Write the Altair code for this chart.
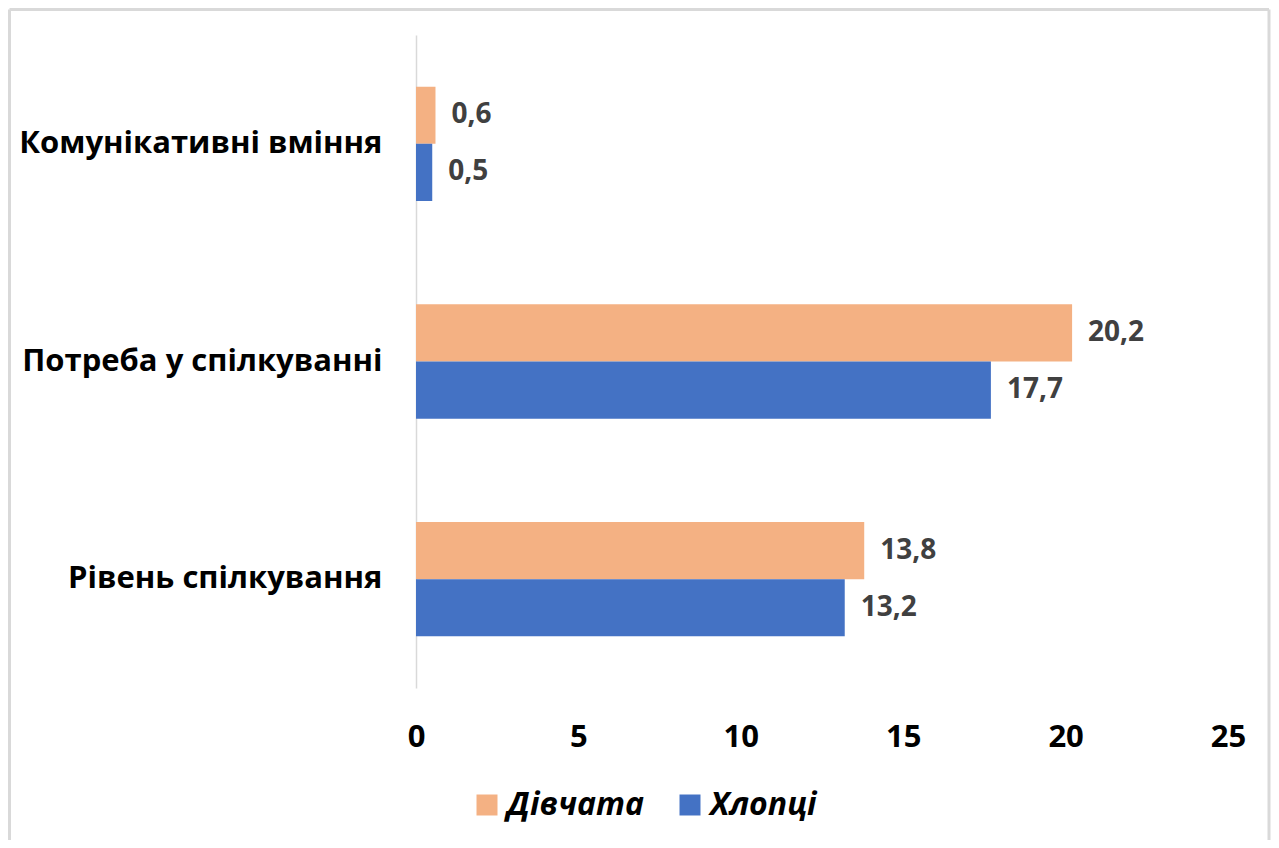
import altair as alt
import pandas as pd

categories = ["Комунікативні вміння", "Потреба у спілкуванні", "Рівень спілкування"]
series = ["Дівчата", "Хлопці"]
girls = [0.6, 20.2, 13.8]
boys = [0.5, 17.7, 13.2]
x_ticks = [0, 5, 10, 15, 20, 25]
colors = ["#F4B183", "#4472C4"]

rows = []
for c, g, b in zip(categories, girls, boys):
    rows.append({"cat": c, "series": "Дівчата", "value": g, "label": f"{g:.1f}".replace(".", ",")})
    rows.append({"cat": c, "series": "Хлопці", "value": b, "label": f"{b:.1f}".replace(".", ",")})
df = pd.DataFrame(rows)

FONT = "Open Sans"

y_enc = alt.Y("cat:N", sort=categories,
              scale=alt.Scale(paddingInner=0.475, paddingOuter=0.2375),
              axis=alt.Axis(title=None, ticks=False, domainColor="#d9d9d9", domainWidth=1.5,
                            labelFont=FONT, labelFontSize=31, labelFontWeight="bold",
                            labelColor="#000000", labelPadding=34, labelLimit=600))
yoff = alt.YOffset("series:N", sort=series, scale=alt.Scale(paddingInner=0, paddingOuter=0))
x_enc = alt.X("value:Q", scale=alt.Scale(domain=[0, 25], nice=False),
              axis=alt.Axis(title=None, values=x_ticks, grid=False, domain=False, ticks=False,
                            labelFont=FONT, labelFontSize=31, labelFontWeight="bold",
                            labelColor="#000000", labelPadding=34, labelFlush=False))

bars = alt.Chart(df).mark_bar().encode(
    y=y_enc, yOffset=yoff, x=x_enc,
    color=alt.Color("series:N", sort=series,
                    scale=alt.Scale(domain=series, range=colors),
                    legend=alt.Legend(title=None, orient="none", direction="horizontal",
                                      legendX=55, legendY=754,
                                      symbolType="square", symbolSize=441, symbolStrokeWidth=0,
                                      labelFont=FONT, labelFontSize=32, labelFontWeight="bold",
                                      labelFontStyle="italic", labelColor="#000000",
                                      columnPadding=30, labelOffset=4)),
)

labels = alt.Chart(df).mark_text(align="left", baseline="middle", dx=16, font=FONT,
                                 fontSize=28, fontWeight="bold", color="#404040").encode(
    y=alt.Y("cat:N", sort=categories), yOffset=alt.YOffset("series:N", sort=series),
    x="value:Q", text="label:N")

frame_df = pd.DataFrame({"k": [0]})
frame_style = dict(color="#d9d9d9", strokeWidth=3)
left_edge = alt.Chart(frame_df).mark_rule(**frame_style).encode(
    x=alt.value(-406.5), y=alt.value(-25.5), y2=alt.value(805))
right_edge = alt.Chart(frame_df).mark_rule(**frame_style).encode(
    x=alt.value(853), y=alt.value(-25.5), y2=alt.value(805))
top_edge = alt.Chart(frame_df).mark_rule(**frame_style).encode(
    x=alt.value(-406.5), x2=alt.value(853), y=alt.value(-25.5))

chart = alt.layer(left_edge, right_edge, top_edge, bars, labels).properties(
    width=812, height=653, padding=0, background="white"
).configure_view(strokeWidth=0, stroke=None)

chart.save("out.html", embed_options={"renderer": "svg", "actions": False})
